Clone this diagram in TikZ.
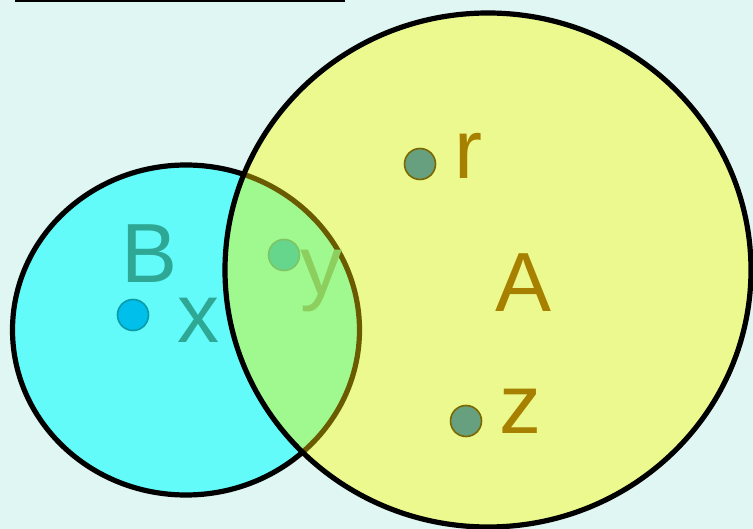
\documentclass[tikz,border=0pt]{standalone}
\usepackage{fontspec}
\setmainfont{Liberation Sans}
\definecolor{bgc}{HTML}{DFF6F2}
\definecolor{cyanf}{HTML}{62FBF9}
\definecolor{yellowf}{HTML}{EBF98F}
\definecolor{greenf}{HTML}{A0F98F}
\definecolor{olive}{HTML}{6B5B00}
\definecolor{tealtxt}{HTML}{2EA894}
\definecolor{xdotf}{HTML}{00BFEA}
\definecolor{xdotd}{HTML}{0A9AA8}
\definecolor{ydotf}{HTML}{66D68C}
\definecolor{ydotd}{HTML}{7DC565}
\definecolor{ytxt}{HTML}{8DCF5E}
\definecolor{adotf}{HTML}{67A07E}
\definecolor{adotd}{HTML}{7A6800}
\definecolor{goldtxt}{HTML}{A88000}
\tikzset{
  lbl/.style={inner sep=0pt, anchor=base, font=\fontsize{84}{84}\selectfont},
  dotn/.style={circle, inner sep=0pt, minimum size=31pt, line width=1.6pt},
  setline/.style={line width=5.2pt}
}
\begin{document}
\begin{tikzpicture}[x=1pt,y=-1pt]
\fill[bgc] (0,0) rectangle (753,529);
\useasboundingbox (0,0) rectangle (753,529);
\coordinate (L1) at (15,1);
\coordinate (L2) at (345,1);
\draw[line width=2.5pt] (L1) -- (L2);
% set B
\fill[cyanf] (186,330) ellipse [x radius=173.5pt, y radius=165pt];
\draw[setline] (186,330) ellipse [x radius=173.5pt, y radius=165pt];
\node[lbl, text=tealtxt] (Blbl) at (150,283) {B};
\node[lbl, text=tealtxt] (xlbl) at (198,343) {x};
\node[dotn, fill=xdotf, draw=xdotd] (xdot) at (133,315) {};
% set A fill
\fill[yellowf] (488,270) ellipse [x radius=263pt, y radius=257pt];
\begin{scope}
  \clip (488,270) ellipse [x radius=263pt, y radius=257pt];
  \fill[greenf] (186,330) ellipse [x radius=173.5pt, y radius=165pt];
  \draw[setline, olive] (186,330) ellipse [x radius=173.5pt, y radius=165pt];
\end{scope}
\node[dotn, fill=ydotf, draw=ydotd] (ydot) at (284,255) {};
\node[lbl, text=ytxt] (ylbl) at (321,295) {y};
% A outline
\draw[setline] (488,270) ellipse [x radius=263pt, y radius=257pt];
\node[lbl, text=goldtxt] (Albl) at (523.5,312) {A};
\node[dotn, fill=adotf, draw=adotd] (rdot) at (420,164) {};
\node[lbl, text=goldtxt] (rlbl) at (468,179) {r};
\node[dotn, fill=adotf, draw=adotd] (zdot) at (466,421) {};
\node[lbl, text=goldtxt] (zlbl) at (520.5,434) {z};
\end{tikzpicture}
\end{document}
